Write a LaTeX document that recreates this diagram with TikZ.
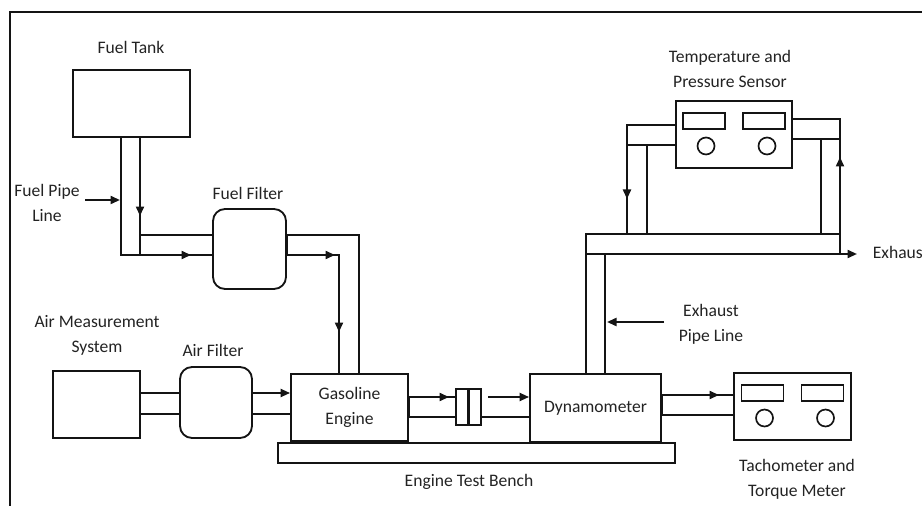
\documentclass[tikz,border=0pt]{standalone}
\usepackage{fontspec}
\setmainfont{Carlito}
\usepackage{tikz}
\usetikzlibrary{arrows.meta,positioning,calc}
\definecolor{inkblack}{RGB}{20, 20, 20}
\definecolor{labelgray}{RGB}{35, 35, 35}

\begin{document}
\begin{tikzpicture}[x=0.02cm, y=-0.02cm, line width=0.95pt, draw=inkblack]
    \tikzstyle{pbox} = [draw=inkblack, line width=1.05pt, fill=white, inner sep=0pt, minimum width=2.34cm, minimum height=1.34cm, font=\fontsize{10}{14.2}\selectfont, align=center, text=labelgray]
    \tikzstyle{pfilter} = [pbox, rounded corners=2.4mm, minimum width=1.46cm, minimum height=1.6cm]
    \tikzstyle{plabel} = [font=\fontsize{10}{14.2}\selectfont, align=center, text=labelgray, inner sep=0pt]
    \tikzstyle{pflow} = [line width=1.2pt, -{Stealth[length=1.9mm, width=1.6mm, inset=0pt]}]
    \tikzstyle{pjoint} = [line width=1.6pt]

    \useasboundingbox (0,0) rectangle (922,506);
    \draw[line width=1.3pt] (922,12) -- (10,12) -- (10,506);

    % equipment
    \node[pbox] (tank) at (131.5,103.5) {};
    \node[pfilter] (ffilter) at (249.5,249) {};
    \node[pbox, minimum width=1.74cm] (ams) at (96.5,404.5) {};
    \node[pfilter, minimum width=1.44cm, minimum height=1.42cm] (afilter) at (216,402.5) {};
    \node[pbox, minimum width=7.94cm, minimum height=0.4cm] (bench) at (476.5,453) {};
    \node[pbox] (engine) at (349.5,407.5) {Gasoline\\Engine};
    \node[pbox, minimum width=0.5cm, minimum height=0.72cm] (coupling) at (468.5,407) {};
    \node[pbox, minimum width=2.62cm, minimum height=1.36cm] (dyno) at (595.5,408) {Dynamometer};
    \node[pbox] (tacho) at (792.5,406.5) {};
    \node[pbox, minimum width=2.32cm] (sensor) at (734,134.5) {};
    \draw[line width=1.7pt] (coupling.north) -- (coupling.south);

    % displays and dials
    \foreach \m in {sensor,tacho} {
        \begin{scope}[shift={(\m.center)}]
            \draw (-51,-21.5) rectangle (-9,-5.5);
            \draw (9,-21.5) rectangle (51,-5.5);
            \draw (-28,11.5) circle (8.5);
            \draw (33,11.5) circle (8.5);
        \end{scope}
    }

    % labels
    \node[plabel] (tanklbl) at (131,47) {Fuel Tank};
    \node[plabel] (fpipelbl) at (47,203) {Fuel Pipe\\Line};
    \node[plabel] (ffilterlbl) at (248,193) {Fuel Filter};
    \node[plabel] (amslbl) at (97,335.5) {Air Measurement\\System};
    \node[plabel] (afilterlbl) at (213,350) {Air Filter};
    \node[plabel] (benchlbl) at (469,482) {Engine Test Bench};
    \node[plabel] (tacholbl) at (797,479) {Tachometer and\\Torque Meter};
    \node[plabel] (sensorlbl) at (730,68.5) {Temperature and\\Pressure Sensor};
    \node[plabel] (epipelbl) at (711,324.5) {Exhaust\\Pipe Line};
    \node[plabel, anchor=west] (exhlbl) at (872,252) {Exhaus};

    % fuel line
    \draw (121,137) rectangle (140,255);
    \draw[pflow] (140,170) -- (140,216);
    \draw (140,235) -- (ffilter.west |- 0,235);
    \draw (140,255) -- (ffilter.west |- 0,255);
    \draw[pflow] (165,255) -- (191,255);
    \draw (ffilter.east |- 0,235) -- (359,235) -- (359,0 |- engine.north);
    \draw (ffilter.east |- 0,255) -- (339,255) -- (339,0 |- engine.north);
    \draw[pjoint] (ffilter.east |- 0,235) -- (ffilter.east |- 0,255);
    \draw[pflow] (305,255) -- (335,255);
    \draw[pflow] (339,295) -- (339,332);
    \coordinate (fpipetip) at (120,200);
    \draw[pflow] (85,200) -- (fpipetip);

    % air line
    \draw (ams.east |- 0,393) -- (afilter.west |- 0,393);
    \draw (ams.east |- 0,414) -- (afilter.west |- 0,414);
    \draw[pflow] (afilter.east |- 0,393) -- (engine.west |- 0,393);
    \draw (afilter.east |- 0,414) -- (engine.west |- 0,414);

    % shaft line
    \draw[pjoint] (engine.east |- 0,397) -- (engine.east |- 0,417);
    \draw (engine.east |- 0,397) -- (coupling.west |- 0,397);
    \draw[pflow] (413,397) -- (449,397);
    \draw (engine.east |- 0,417) -- (coupling.west |- 0,417);
    \draw[pflow] (488,397) -- (dyno.west |- 0,397);
    \draw (coupling.east |- 0,417) -- (dyno.west |- 0,417);
    \draw[pjoint] (dyno.east |- 0,395) -- (dyno.east |- 0,415);
    \draw (dyno.east |- 0,395) -- (tacho.west |- 0,395);
    \draw[pflow] (670,395) -- (719,395);
    \draw (dyno.east |- 0,415) -- (tacho.west |- 0,415);

    % exhaust line
    \draw (586,0 |- dyno.north) -- (586,234) -- (840,234);
    \draw (605,0 |- dyno.north) -- (605,254);
    \draw (586,254) -- (840,254);
    \draw[pflow] (840,254) -- (857,254);
    \draw (sensor.west |- 0,125) -- (627,125) -- (627,234);
    \draw (sensor.west |- 0,145) -- (627,145);
    \draw (647,145) -- (647,234);
    \draw[pflow] (627,180) -- (627,199);
    \draw (sensor.east |- 0,119) -- (840,119) -- (840,254);
    \draw (sensor.east |- 0,139) -- (840,139);
    \draw (821,139) -- (821,234);
    \draw[pjoint] (821,234) -- (840,234);
    \draw[pflow] (840,203) -- (840,157);
    \coordinate (epipetip) at (607,322);
    \draw[pflow] (664,322) -- (epipetip);
\end{tikzpicture}
\end{document}
